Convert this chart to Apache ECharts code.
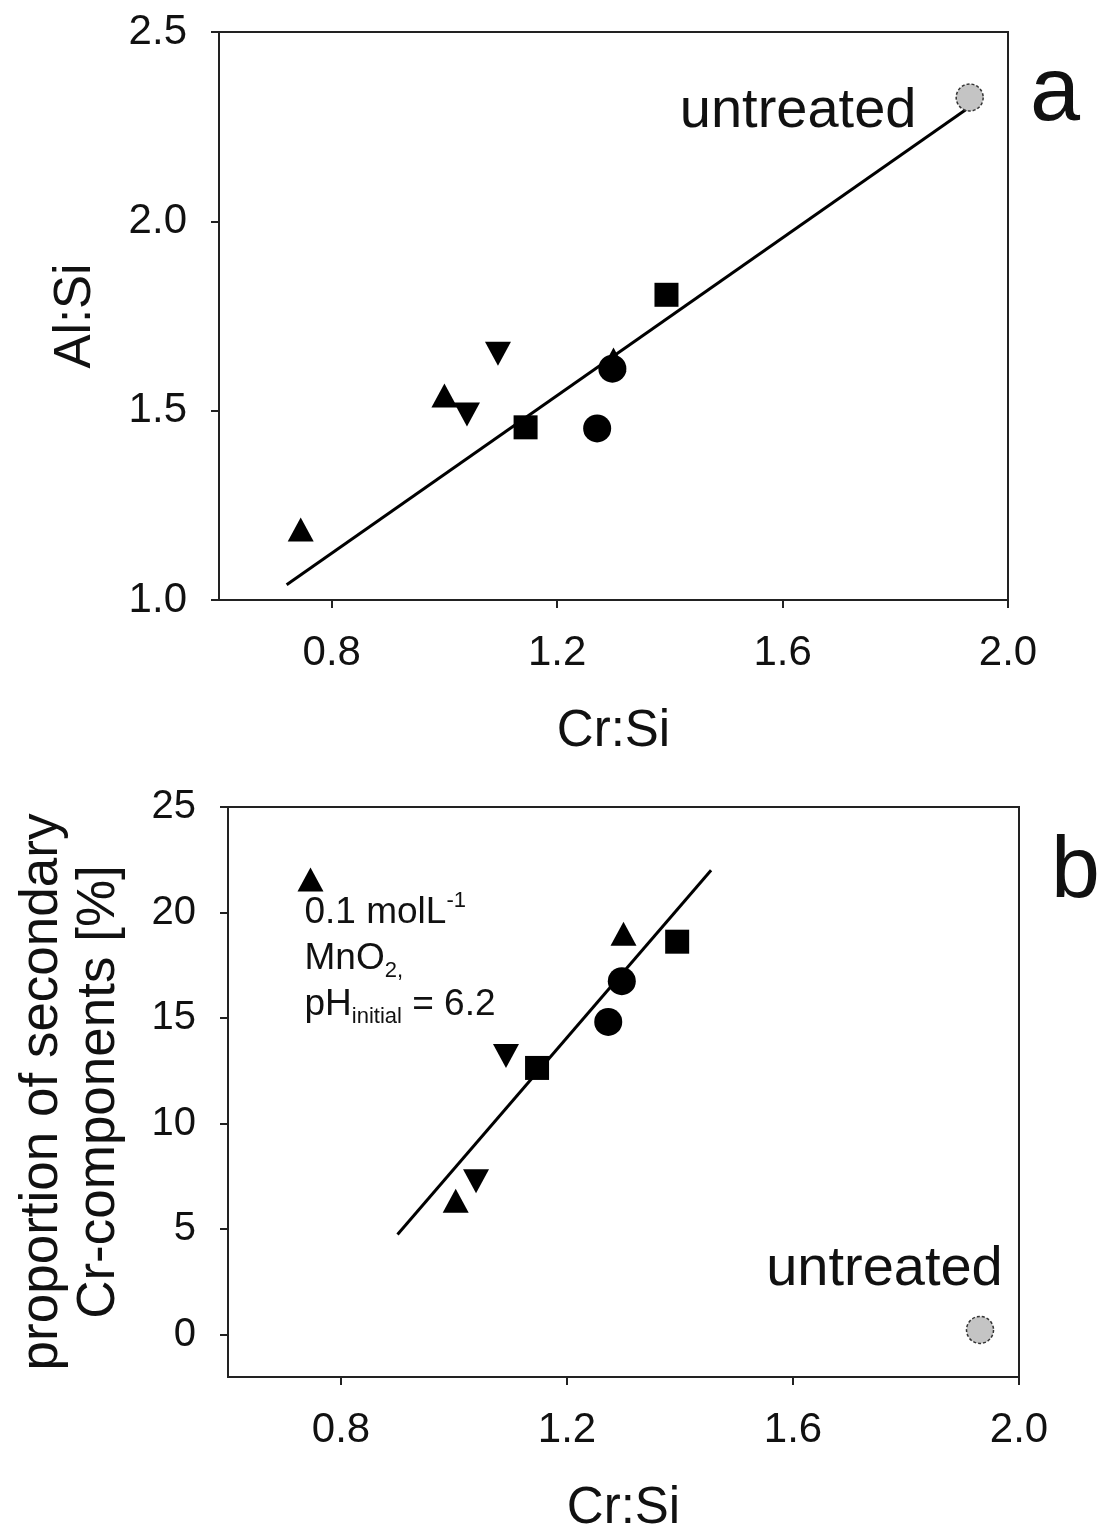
<!DOCTYPE html>
<html><head><meta charset="utf-8">
<script src="https://cdn.jsdelivr.net/npm/echarts@6/dist/echarts.min.js"></script>
<style>html,body{margin:0;padding:0;background:#fff}#c{width:1101px;height:1535px}</style>
</head><body><div id="c"></div>
<script>
// ---- data ----
const xTicks = [0.8, 1.2, 1.6, 2.0];
const aYTicks = [1.0, 1.5, 2.0, 2.5];
const bYTicks = [0, 5, 10, 15, 20, 25];

// panel a: Al:Si vs Cr:Si
const aTriUp = [[0.745, 1.186], [1.00, 1.54], [1.30, 1.635]];
const aTriDown = [[1.04, 1.49], [1.095, 1.65]];
const aSquare = [[1.144, 1.456], [1.394, 1.806]];
const aCircle = [[1.271, 1.453], [1.298, 1.611]];
const aUntreated = [[1.932, 2.327]];
const aFit = [[0.72, 1.04], [1.93, 2.30]];

// panel b: proportion of secondary Cr-components vs Cr:Si
const bTriUp = [[0.746, 21.56], [1.003, 6.35], [1.30, 19.0]];
const bTriDown = [[1.039, 7.27], [1.092, 13.2]];
const bSquare = [[1.147, 12.64], [1.395, 18.62]];
const bCircle = [[1.273, 14.82], [1.297, 16.75]];
const bUntreated = [[1.931, 0.23]];
const bFit = [[0.90, 4.75], [1.455, 22.0]];

// ---- chart ----
const FONT = "'Liberation Sans', Arial, sans-serif";
const AX = '#222', TX = '#111';
const chart = echarts.init(document.getElementById('c'), null, {renderer: 'canvas'});

function xAxis(gi, gap) {
  return {
    gridIndex: gi, type: 'value', min: 0.6, max: 2.0,
    axisLine: {show: true, onZero: false, lineStyle: {color: AX, width: 2}},
    axisTick: {show: true, inside: false, length: 8, lineStyle: {color: AX, width: 2}, customValues: xTicks},
    axisLabel: {customValues: xTicks, formatter: v => v.toFixed(1), fontSize: 42, fontFamily: FONT, color: TX, margin: 32},
    splitLine: {show: false},
    name: 'Cr:Si', nameLocation: 'middle', nameGap: gap,
    nameTextStyle: {fontSize: 51, fontFamily: FONT, color: TX}
  };
}
function yAxis(gi, min, max, ticks, fmt, fs, name, gap, nfs, lh) {
  return {
    gridIndex: gi, type: 'value', min: min, max: max,
    axisLine: {show: true, onZero: false, lineStyle: {color: AX, width: 2}},
    axisTick: {show: true, inside: false, length: 8, lineStyle: {color: AX, width: 2}, customValues: ticks},
    axisLabel: {customValues: ticks, formatter: fmt, fontSize: fs, fontFamily: FONT, color: TX, margin: 32},
    splitLine: {show: false},
    name: name, nameLocation: 'middle', nameGap: gap,
    nameTextStyle: {fontSize: nfs, fontFamily: FONT, color: TX, lineHeight: lh}
  };
}
function sc(gi, data, symbol, size, rot, extra) {
  return Object.assign({
    type: 'scatter', xAxisIndex: gi, yAxisIndex: gi, data: data,
    symbol: symbol, symbolSize: size, symbolRotate: rot || 0,
    itemStyle: {color: '#000', opacity: 1}, z: 3, silent: true
  }, extra || {});
}
function fit(gi, data) {
  return {type: 'line', xAxisIndex: gi, yAxisIndex: gi, data: data, symbol: 'none',
    lineStyle: {color: '#000', width: 3}, z: 2, silent: true};
}
const greyStyle = {color: '#c4c4c4', opacity: 1, borderColor: '#333', borderWidth: 1.5, borderType: [3, 2]};

const option = {
  backgroundColor: '#fff',
  animation: false,
  grid: [
    {left: 219, top: 32, width: 789, height: 568, show: true, borderColor: AX, borderWidth: 2},
    {left: 228, top: 807, width: 791, height: 571, show: true, borderColor: AX, borderWidth: 2}
  ],
  xAxis: [xAxis(0, 106), xAxis(1, 106)],
  yAxis: [
    yAxis(0, 1.0, 2.5, aYTicks, v => v.toFixed(1), 42, 'Al:Si', 113, 51, 60),
    yAxis(1, -2, 25, bYTicks, v => String(v), 40, 'proportion of secondary\nCr-components [%]', 100, 53, 57)
  ],
  series: [
    fit(0, aFit),
    sc(0, aTriUp, 'triangle', [26, 24]),
    sc(0, aTriDown, 'triangle', [26, 24], 180),
    sc(0, aSquare, 'rect', 24),
    sc(0, aCircle, 'circle', 28),
    sc(0, aUntreated, 'circle', 27, 0, {itemStyle: greyStyle,
      label: {show: true, formatter: 'untreated', position: [-39, 56], align: 'right', verticalAlign: 'bottom',
        fontSize: 56, fontFamily: FONT, color: TX}}),
    fit(1, bFit),
    sc(1, bTriUp, 'triangle', [26, 24], 0, {
      label: {show: true, position: [7, 22], align: 'left', verticalAlign: 'top',
        formatter: p => p.dataIndex === 0 ? '{n|0.1 molL}{sup|-1}\n{n|MnO}{sub|2,}\n{n|pH}{sub|initial}{n| = 6.2}' : '',
        fontFamily: FONT, color: TX, lineHeight: 46,
        rich: {
          n: {fontSize: 37, fontFamily: FONT, color: TX, lineHeight: 46},
          sup: {fontSize: 22, fontFamily: FONT, color: TX, verticalAlign: 'top', lineHeight: 46, padding: [0, 0, 14, 0]},
          sub: {fontSize: 22, fontFamily: FONT, color: TX, verticalAlign: 'bottom', lineHeight: 46, padding: [12, 0, 0, 0]}
        }}}),
    sc(1, bTriDown, 'triangle', [26, 24], 180),
    sc(1, bSquare, 'rect', 24),
    sc(1, bCircle, 'circle', 28),
    sc(1, bUntreated, 'circle', 27, 0, {itemStyle: greyStyle,
      label: {show: true, formatter: 'untreated', position: [37, -18], align: 'right', verticalAlign: 'bottom',
        fontSize: 56, fontFamily: FONT, color: TX}})
  ],
  graphic: [
    {type: 'text', left: 1030, top: 50, style: {text: 'a', fontSize: 90, fontFamily: FONT, fill: TX}},
    {type: 'text', left: 1051, top: 829, style: {text: 'b', fontSize: 88, fontFamily: FONT, fill: TX}}
  ]
};
chart.setOption(option);
</script>
</body></html>
